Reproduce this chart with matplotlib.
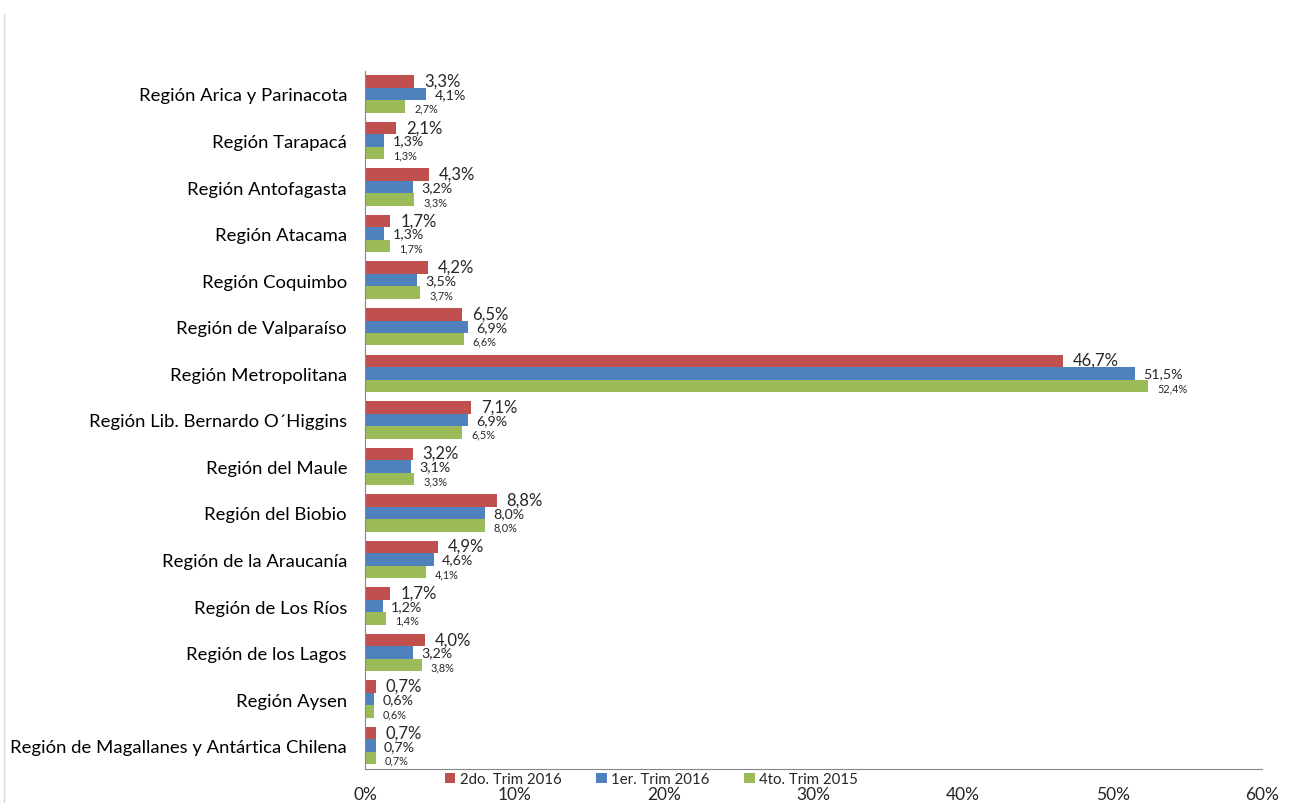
import matplotlib
matplotlib.use("Agg")
import matplotlib.pyplot as plt
from matplotlib.lines import Line2D
import numpy as np

regions = [
    "Región Arica y Parinacota", "Región Tarapacá", "Región Antofagasta",
    "Región Atacama", "Región Coquimbo", "Región de Valparaíso",
    "Región Metropolitana", "Región Lib. Bernardo O´Higgins", "Región del Maule",
    "Región del Biobio", "Región de la Araucanía", "Región de Los Ríos",
    "Región de los Lagos", "Región Aysen", "Región de Magallanes y Antártica Chilena",
]
trim2_2016 = [3.3, 2.1, 4.3, 1.7, 4.2, 6.5, 46.7, 7.1, 3.2, 8.8, 4.9, 1.7, 4.0, 0.7, 0.7]
trim1_2016 = [4.1, 1.3, 3.2, 1.3, 3.5, 6.9, 51.5, 6.9, 3.1, 8.0, 4.6, 1.2, 3.2, 0.6, 0.7]
trim4_2015 = [2.7, 1.3, 3.3, 1.7, 3.7, 6.6, 52.4, 6.5, 3.3, 8.0, 4.1, 1.4, 3.8, 0.6, 0.7]
series_names = ["2do. Trim 2016", "1er. Trim 2016", "4to. Trim 2015"]
colors = ["#C0504D", "#4F81BD", "#9BBB59"]
xticks = [0, 10, 20, 30, 40, 50, 60]

plt.rcParams['font.family'] = ['Lato', 'DejaVu Sans']

fig = plt.figure(figsize=(12.95, 8.04), dpi=100)
ax = fig.add_axes([0.2819, 0.0423, 0.6927, 0.8685])

n = len(regions)
y = np.arange(n)
h = 0.268
series = [trim2_2016, trim1_2016, trim4_2015]
offsets = [-h, 0, h]
label_sizes = [12, 10.3, 7.8]
label_dx = [0.65, 0.55, 0.6]
label_dy = [-0.02, 0.0, 0.04]
for vals, off, c, name, fs, dx, dy in zip(series, offsets, colors, series_names, label_sizes, label_dx, label_dy):
    ax.barh(y + off, vals, height=h, color=c, label=name)
    for yi, v in zip(y, vals):
        ax.text(v + dx, yi + off + dy, f"{v:.1f}%".replace(".", ","),
                va="center", ha="left", fontsize=fs, color="#262626")

ax.set_ylim(n - 0.5, -0.5)
ax.set_xlim(0, 60)
ax.set_yticks(y)
ax.set_yticklabels(regions, fontsize=13.3, color="#000000")
ax.set_xticks(xticks)
ax.set_xticklabels([f"{t}%" for t in xticks], fontsize=12.5, color="#262626")
ax.tick_params(axis="y", length=0, pad=13)
ax.tick_params(axis="x", length=0, pad=12)
for s in ["top", "right"]:
    ax.spines[s].set_visible(False)
ax.spines["left"].set_color("#868686")
ax.spines["bottom"].set_color("#868686")

fig.legend(loc="center", bbox_to_anchor=(0.503, 1 - 780 / 804), ncol=3, frameon=False,
           fontsize=10.8, handlelength=0.7, handleheight=0.7, handletextpad=0.3,
           columnspacing=2.3, labelcolor="#262626")

fig.add_artist(Line2D([4 / 1295, 4 / 1295], [0, 1 - 15 / 804], transform=fig.transFigure,
                      color="#D9D9D9", lw=1))

fig.savefig("out.png", dpi=100)
